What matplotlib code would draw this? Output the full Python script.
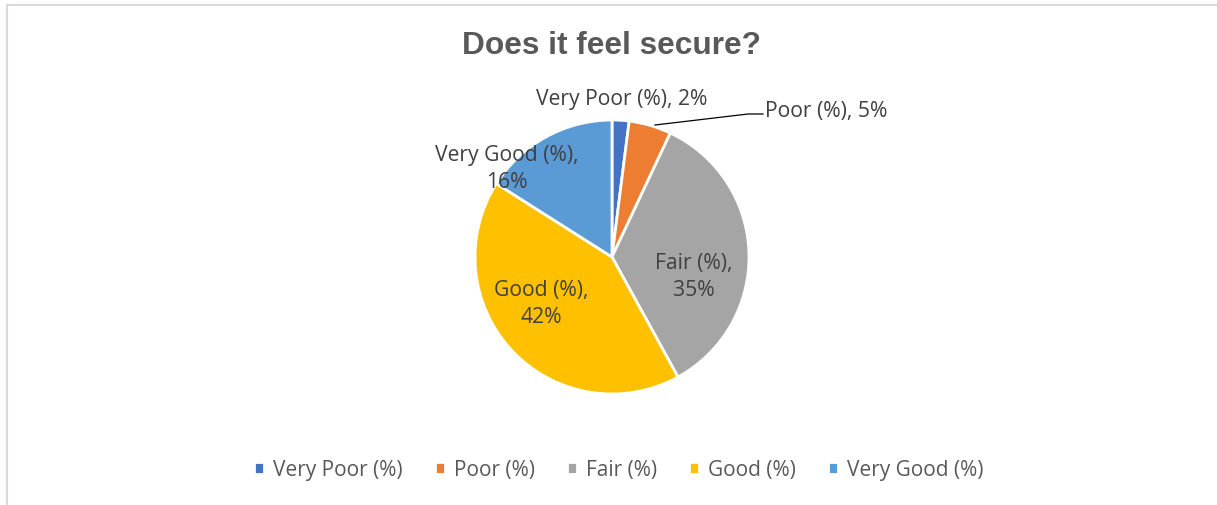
import matplotlib.pyplot as plt
from matplotlib.patches import Rectangle

# data
categories = ['Very Poor (%)', 'Poor (%)', 'Fair (%)', 'Good (%)', 'Very Good (%)']
values = [2, 5, 35, 42, 16]
colors = ['#4472C4', '#ED7D31', '#A5A5A5', '#FFC000', '#5B9BD5']

plt.rcParams['font.family'] = ['Open Sans', 'DejaVu Sans']

W, H = 1217, 506
fig = plt.figure(figsize=(W / 100, H / 100), dpi=100)
ax = fig.add_axes([0, 0, 1, 1])

# chart frame (clipped by image edges)
ax.add_patch(Rectangle((7, -10), W + 20, H - 6 + 10, fill=False,
                       edgecolor='#d9d9d9', linewidth=1.5))

cx, cy, r = 612, H - 258, 137
wedges, _ = ax.pie(values, colors=colors, startangle=90, counterclock=False,
                   center=(cx, cy), radius=r, frame=True,
                   wedgeprops=dict(edgecolor='white', linewidth=2))
ax.set_xlim(0, W)
ax.set_ylim(0, H)
ax.set_aspect('equal')
ax.axis('off')

ax.text(cx, H - 46, 'Does it feel secure?', ha='center', va='center',
        fontsize=22.8, fontweight='bold', color='#595959',
        family=['Liberation Sans', 'DejaVu Sans'])

lab_col = '#404040'
fs = 15.2
ax.text(622, H - 99, f'{categories[0]}, {values[0]}%', ha='center', va='center',
        fontsize=fs, color=lab_col)
ax.text(765, H - 111, f'{categories[1]}, {values[1]}%', ha='left', va='center',
        fontsize=fs, color=lab_col)
ax.plot([655, 748, 763], [H - 126, H - 115, H - 115], color='black', linewidth=0.9)
ax.text(694, H - 277, f'Fair (%),\n{values[2]}%', ha='center', va='center',
        fontsize=fs, color=lab_col, linespacing=1.35)
ax.text(541, H - 304, f'Good (%),\n{values[3]}%', ha='center', va='center',
        fontsize=fs, color=lab_col, linespacing=1.35)
ax.text(507, H - 169, f'Very Good (%),\n{values[4]}%', ha='center', va='center',
        fontsize=fs, color=lab_col, linespacing=1.35)

fig.legend(wedges, categories, loc='center', bbox_to_anchor=(619 / W, 1 - 471 / H),
           ncol=5, frameon=False, fontsize=15, labelcolor='#595959',
           handlelength=0.45, handleheight=0.5, handletextpad=0.45,
           columnspacing=1.55)

fig.savefig('out.png', dpi=100)
